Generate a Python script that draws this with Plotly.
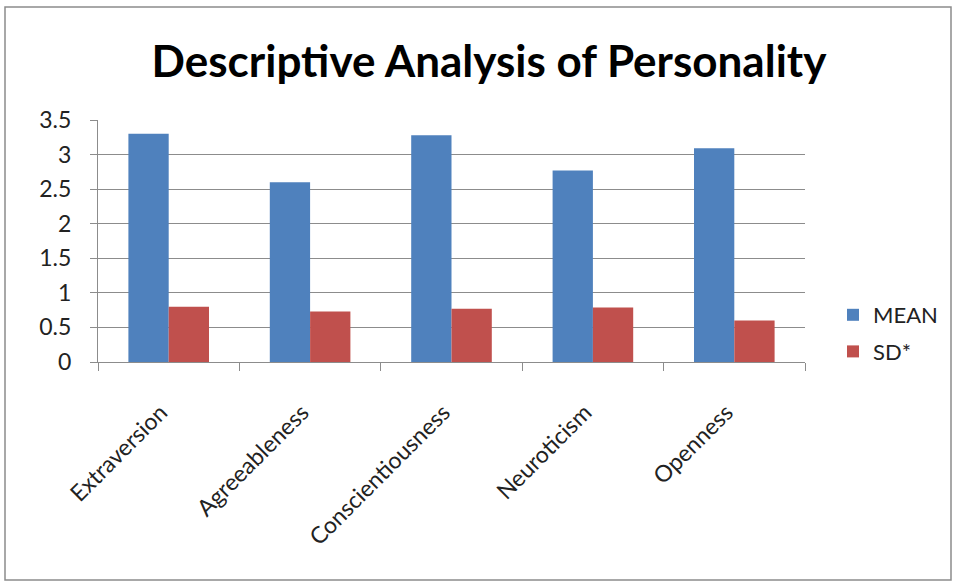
import plotly.graph_objects as go

categories = ["Extraversion", "Agreeableness", "Conscientiousness", "Neuroticism", "Openness"]
mean_values = [3.30, 2.60, 3.28, 2.77, 3.09]
sd_values = [0.80, 0.73, 0.77, 0.79, 0.60]
y_ticks = [0, 0.5, 1, 1.5, 2, 2.5, 3, 3.5]
y_tick_text = ["0", "0.5", "1", "1.5", "2", "2.5", "3", "3.5"]

W, H = 956, 584
L, R, T, B = 98, 151, 120, 222
pw, ph = W - L - R, H - T - B

def px_x(x):
    return (x - L) / pw

def px_y(y):
    return (H - B - y) / ph

FONT = "Lato, 'Open Sans', sans-serif"

fig = go.Figure()
fig.add_trace(go.Bar(x=categories, y=mean_values, name="MEAN",
                     marker=dict(color="#4F81BD", line=dict(width=0)),
                     legendgroup="a"))
fig.add_trace(go.Bar(x=categories, y=sd_values, name="SD*",
                     marker=dict(color="#C0504D", line=dict(width=0)),
                     legendgroup="b"))

fig.update_layout(
    width=W, height=H,
    margin=dict(l=L, r=R, t=T, b=B),
    paper_bgcolor="white", plot_bgcolor="white",
    barmode="group", bargap=0.43, bargroupgap=0,
    font=dict(family=FONT, size=21, color="#222222"),
    title=dict(text="<b>Descriptive Analysis of Personality</b>",
               x=px_x(489), xref="paper", xanchor="center",
               y=1 - 62 / H, yanchor="middle",
               font=dict(family=FONT, size=44, color="#000000")),
    legend=dict(x=px_x(833), y=px_y(294), xanchor="left", yanchor="top",
                font=dict(size=22), tracegroupgap=5, itemwidth=30,
                bgcolor="rgba(0,0,0,0)"),
    showlegend=True,
)

fig.update_yaxes(range=[0, 3.5], tickvals=y_ticks, ticktext=y_tick_text,
                 showgrid=True, gridcolor="#8C8C8C", gridwidth=1,
                 showline=True, linecolor="#8C8C8C", linewidth=1,
                 ticks="outside", ticklen=7, tickcolor="#8C8C8C",
                 tickfont=dict(size=23, color="#222222"), zeroline=False,
                 ticklabelstandoff=14)
fig.update_xaxes(showline=True, linecolor="#8C8C8C", linewidth=1,
                 ticks="outside", ticklen=8, tickcolor="#8C8C8C",
                 tickson="boundaries", tickangle=-45, showgrid=False,
                 tickfont=dict(size=23, color="#222222"),
                 ticklabelstandoff=27, ticklabelshift=-8)

# outer chart border
fig.add_shape(type="rect", xref="paper", yref="paper",
              x0=px_x(5), x1=px_x(951), y0=px_y(580), y1=px_y(7),
              line=dict(color="#8C8C8C", width=1.5), fillcolor="rgba(0,0,0,0)",
              layer="below")

fig.write_html("out.html")
